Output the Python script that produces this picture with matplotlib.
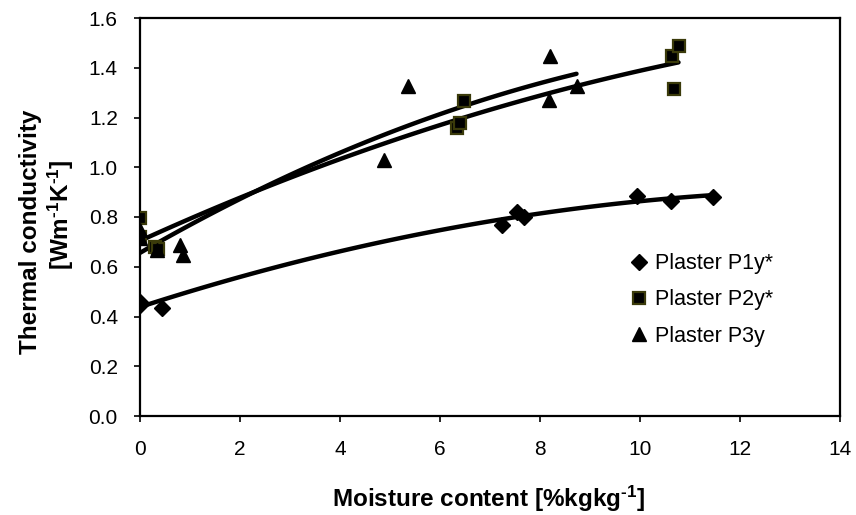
import numpy as np
import matplotlib
matplotlib.use("Agg")
import matplotlib.pyplot as plt

plt.rcParams['font.family'] = ['Liberation Sans', 'DejaVu Sans']
plt.rcParams['mathtext.fontset'] = 'custom'
plt.rcParams['mathtext.rm'] = 'Liberation Sans:bold'
plt.rcParams['mathtext.it'] = 'Liberation Sans:bold'
plt.rcParams['mathtext.bf'] = 'Liberation Sans:bold'

# Data
p1_x = [0.0, 0.0, 0.43, 7.23, 7.53, 7.68, 9.93, 10.61, 11.45]
p1_y = [0.46, 0.447, 0.433, 0.769, 0.822, 0.802, 0.883, 0.866, 0.880]

p2_x = [0.0, 0.0, 0.30, 0.35, 6.33, 6.40, 6.47, 10.63, 10.67, 10.77]
p2_y = [0.795, 0.72, 0.681, 0.67, 1.158, 1.178, 1.265, 1.446, 1.315, 1.486]

p3_x = [0.0, 0.0, 0.33, 0.80, 0.85, 4.87, 5.35, 8.18, 8.20, 8.73]
p3_y = [0.748, 0.715, 0.668, 0.688, 0.648, 1.03, 1.328, 1.272, 1.446, 1.328]

labels = ['Plaster P1y*', 'Plaster P2y*', 'Plaster P3y']
xticks = [0, 2, 4, 6, 8, 10, 12, 14]
yticks = [0.0, 0.2, 0.4, 0.6, 0.8, 1.0, 1.2, 1.4, 1.6]

W, H = 856, 515
fig = plt.figure(figsize=(W / 100, H / 100), dpi=100)
ax = fig.add_axes([140 / W, 1 - 416 / H, 700 / W, 398 / H])

def trend(x, y):
    c = np.polyfit(x, y, 2)
    xs = np.linspace(min(x), max(x), 100)
    ax.plot(xs, np.polyval(c, xs), color='black', lw=3.2, zorder=3,
            solid_capstyle='round')

trend(p1_x, p1_y)
trend(p2_x, p2_y)
trend(p3_x, p3_y)

ax.plot(p1_x, p1_y, 'D', color='black', ms=8.5, ls='none', label=labels[0], zorder=4)
ax.plot(p2_x, p2_y, 's', mfc='black', mec='#3a3a0a', mew=1.6, ms=8.5, ls='none',
        label=labels[1], zorder=4)
ax.plot(p3_x, p3_y, '^', color='black', ms=10.5, ls='none', label=labels[2], zorder=4)

ax.set_xlim(0, 14)
ax.set_ylim(0, 1.6)
ax.set_xticks(xticks)
ax.set_xticklabels([str(t) for t in xticks])
ax.set_yticks(yticks)
ax.set_yticklabels([f"{t:.1f}" for t in yticks])
ax.tick_params(direction='out', length=4, width=1.2, labelsize=15, colors='black')
ax.tick_params(axis='y', pad=12)
ax.tick_params(axis='x', pad=13)
for s in ax.spines.values():
    s.set_linewidth(1.6)
    s.set_color('black')

fig.text(489 / W, 1 - 507 / H, r'Moisture content [%kgkg$^{\text{-1}}$]', fontsize=17.5,
         fontweight='bold', ha='center', va='baseline')
fig.text(31 / W, 1 - 232 / H, 'Thermal conductivity', fontsize=17.5,
         fontweight='bold', ha='center', va='center', rotation=90)
fig.text(61 / W, 1 - 215 / H, r'[Wm$^{\text{-1}}$K$^{\text{-1}}$]', fontsize=17.5,
         fontweight='bold', ha='center', va='center', rotation=90)

leg = ax.legend(loc='center left', bbox_to_anchor=((630 - 140) / 700, (416 - 300) / 398),
                frameon=False, fontsize=15.5, handlelength=0.8, handletextpad=0.35,
                labelspacing=0.7, borderaxespad=0, borderpad=0)

fig.savefig('out.png', dpi=100)
